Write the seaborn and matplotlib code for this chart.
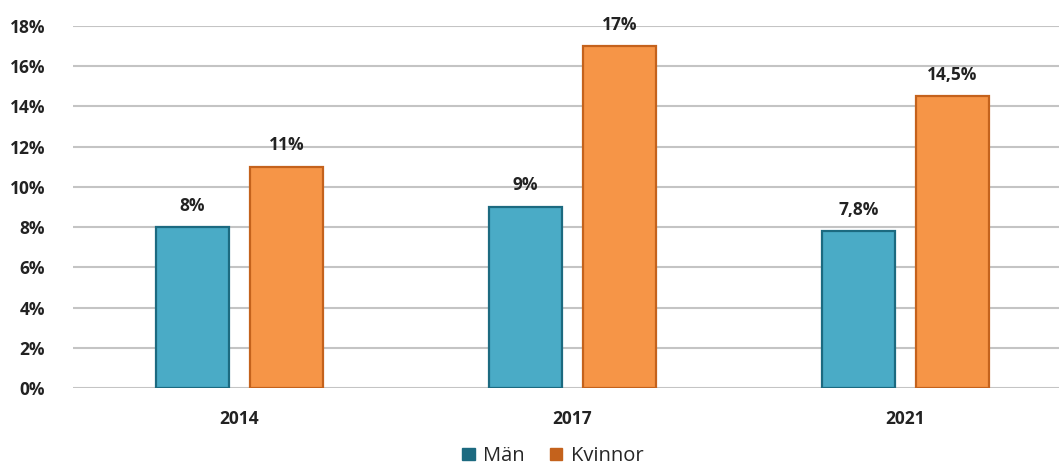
import pandas as pd
import seaborn as sns
import matplotlib.pyplot as plt

# Data
ar = ["2014", "2017", "2021"]
man = [8.0, 9.0, 7.8]
kvinnor = [11.0, 17.0, 14.5]
etiketter_man = ["8%", "9%", "7,8%"]
etiketter_kvinnor = ["11%", "17%", "14,5%"]

df = pd.DataFrame({
    "Ar": ar * 2,
    "Andel": man + kvinnor,
    "Kon": ["Män"] * 3 + ["Kvinnor"] * 3,
})

farger = {"Män": "#4aabc6", "Kvinnor": "#f69547"}
kanter = {"Män": "#1c6a80", "Kvinnor": "#c4621c"}

sns.set_style("white")
plt.rcParams["font.family"] = ["Open Sans", "DejaVu Sans"]

fig = plt.figure(figsize=(10.59, 4.68), dpi=100)
ax = fig.add_axes([73 / 1059, 80 / 468, 999 / 1059, 362 / 468])

sns.barplot(data=df, x="Ar", y="Andel", hue="Kon", palette=farger,
            saturation=1, width=0.565, gap=0.22, ax=ax, legend=False)

for cont, kon, etik in zip(ax.containers, ["Män", "Kvinnor"],
                           [etiketter_man, etiketter_kvinnor]):
    for bar in cont:
        bar.set_edgecolor(kanter[kon])
        bar.set_linewidth(1.6)
    ax.bar_label(cont, labels=etik, padding=9, fontsize=12.5,
                 fontweight="bold", color="#222222")

ax.set_ylim(0, 18)
ax.set_yticks(range(0, 19, 2))
ax.set_yticklabels([f"{v}%" for v in range(0, 19, 2)])
ax.set_xlabel("")
ax.set_ylabel("")
ax.grid(axis="y", color="#c4c4c4", linewidth=1.5)
ax.set_axisbelow(True)
for s in ax.spines.values():
    s.set_visible(False)
ax.tick_params(axis="y", length=0, pad=20, labelsize=12.5, labelcolor="#222222")
ax.tick_params(axis="x", length=0, pad=16, labelsize=12.5, labelcolor="#222222")
for t in ax.get_yticklabels() + ax.get_xticklabels():
    t.set_fontweight("bold")

# Legend
handtag = [plt.Rectangle((0, 0), 1, 1, facecolor=kanter[k], edgecolor=kanter[k])
           for k in ["Män", "Kvinnor"]]
fig.legend(handtag, ["Män", "Kvinnor"], loc="center",
           bbox_to_anchor=(0.522, 12 / 468), ncol=2, frameon=False,
           fontsize=14.5, handlelength=0.6, handleheight=0.6,
           handletextpad=0.4, columnspacing=1.3, borderpad=0.1)

fig.savefig("out.png", dpi=100)
